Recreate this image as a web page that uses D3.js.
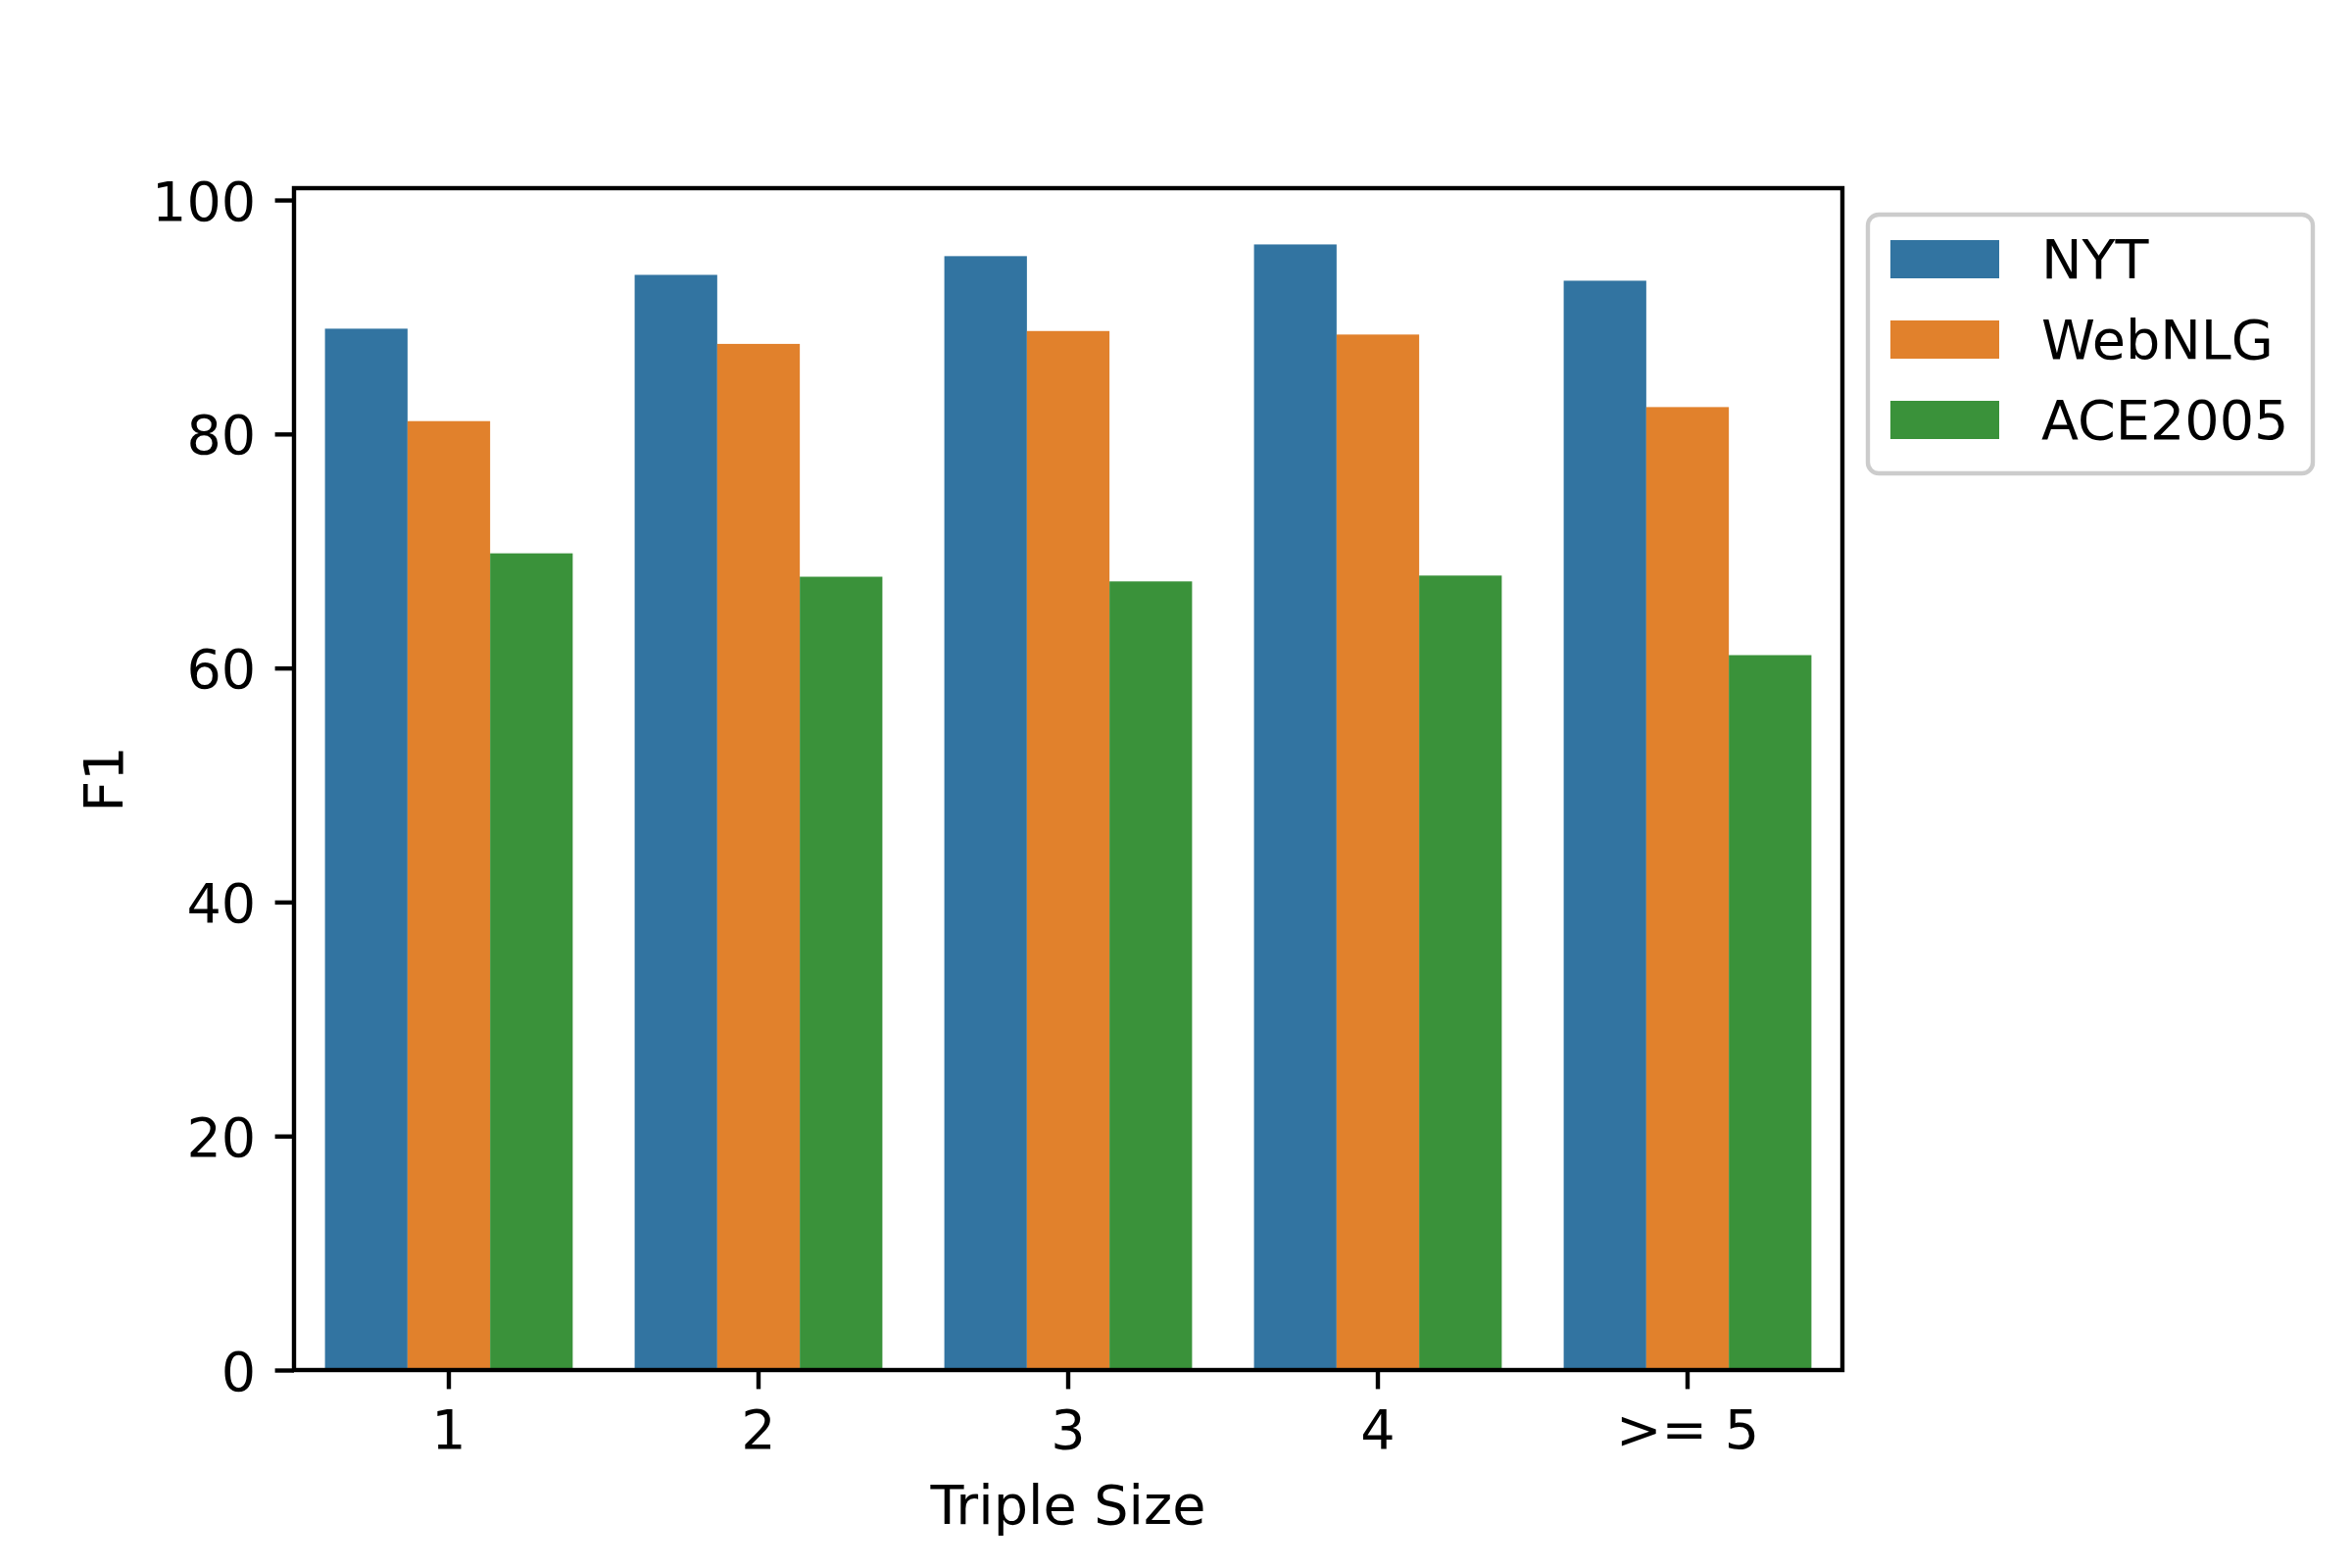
<!DOCTYPE html>
<html>
<head>
<meta charset="utf-8">
<script src="https://cdn.jsdelivr.net/npm/d3@7"></script>
<style>
  html, body { margin: 0; padding: 0; background: #ffffff; }
  svg { display: block; font-family: "DejaVu Sans", sans-serif; }
</style>
</head>
<body>
<script>
// ---- data ----
const categories = ["1", "2", "3", "4", ">= 5"];
const seriesNames = ["NYT", "WebNLG", "ACE2005"];
const nytValues = [89.0, 93.6, 95.2, 96.2, 93.1];
const webnlgValues = [81.1, 87.7, 88.8, 88.5, 82.3];
const aceValues = [69.8, 67.8, 67.4, 67.9, 61.1];
const yTickValues = [0, 20, 40, 60, 80, 100];
const seriesColors = ["#3274a1", "#e1812c", "#3a923a"];
const xLabelText = "Triple Size";
const yLabelText = "F1";

(function () {
const seriesValues = [nytValues, webnlgValues, aceValues];
const rows = [];
categories.forEach((c, i) => {
  seriesNames.forEach((s, j) => rows.push({ cat: c, series: s, value: seriesValues[j][i] }));
});

// ---- layout ----
const W = 2400, H = 1600;
const mLeft = 300, mRight = 1880, mTop = 192, mBottom = 1398;
const fs = 55.6;
const tickLen = 19.4, tickPad = 19.4, lw = 4.4;

const svg = d3.select("body").append("svg").attr("width", W).attr("height", H);
svg.append("rect").attr("width", W).attr("height", H).attr("fill", "#ffffff");

const x = d3.scaleBand().domain(categories).range([mLeft, mRight]).paddingInner(0).paddingOuter(0);
const xSub = d3.scaleBand().domain(seriesNames).range([x.bandwidth() * 0.1, x.bandwidth() * 0.9]).padding(0);
const yMax = d3.max(seriesValues.flat()) * 1.05;
const y = d3.scaleLinear().domain([0, yMax]).range([mBottom, mTop]);
const color = d3.scaleOrdinal().domain(seriesNames).range(seriesColors);

// bars
svg.append("g").selectAll("rect").data(rows).join("rect")
  .attr("x", d => x(d.cat) + xSub(d.series))
  .attr("y", d => y(d.value))
  .attr("width", xSub.bandwidth())
  .attr("height", d => y(0) - y(d.value))
  .attr("fill", d => color(d.series));

// axes
const yAxis = d3.axisLeft(y).tickValues(yTickValues).tickSize(tickLen).tickSizeOuter(0).tickPadding(tickPad);
const gy = svg.append("g").attr("transform", `translate(${mLeft},0)`).call(yAxis);
const xAxis = d3.axisBottom(x).tickSize(tickLen).tickSizeOuter(0).tickPadding(tickPad);
const gx = svg.append("g").attr("transform", `translate(0,${mBottom})`).call(xAxis);
[gy, gx].forEach(g => {
  g.select(".domain").remove();
  g.selectAll(".tick line").attr("stroke", "#000").attr("stroke-width", lw);
  g.selectAll(".tick text").attr("fill", "#000").attr("font-size", fs)
    .attr("font-family", "DejaVu Sans");
});
gy.selectAll(".tick text").attr("dy", "0.36em");
gx.selectAll(".tick text").attr("dy", "0").attr("y", 80);

// frame
svg.append("rect")
  .attr("x", mLeft).attr("y", mTop).attr("width", mRight - mLeft).attr("height", mBottom - mTop)
  .attr("fill", "none").attr("stroke", "#000").attr("stroke-width", lw);

// axis labels
svg.append("text").attr("x", (mLeft + mRight) / 2).attr("y", 1555)
  .attr("text-anchor", "middle").attr("font-size", fs).attr("fill", "#000").text(xLabelText);
svg.append("text").attr("transform", `translate(125,${(mTop + mBottom) / 2}) rotate(-90)`)
  .attr("text-anchor", "middle").attr("font-size", fs).attr("fill", "#000").text(yLabelText);

// legend
const lg = svg.append("g");
lg.append("rect").attr("x", 1906).attr("y", 219).attr("width", 454).attr("height", 264)
  .attr("rx", 11).attr("ry", 11)
  .attr("fill", "#ffffff").attr("fill-opacity", 0.8)
  .attr("stroke", "#cccccc").attr("stroke-width", lw);
const rowY = d3.scalePoint().domain(seriesNames).range([264.5, 428.5]);
const items = lg.selectAll("g.item").data(seriesNames).join("g").attr("class", "item");
items.append("rect").attr("x", 1929).attr("y", d => rowY(d) - 19.5)
  .attr("width", 111).attr("height", 39).attr("fill", d => color(d));
items.append("text").attr("x", 2083).attr("y", d => rowY(d) + 19)
  .attr("font-size", fs).attr("fill", "#000").text(d => d);
})();
</script>
</body>
</html>
